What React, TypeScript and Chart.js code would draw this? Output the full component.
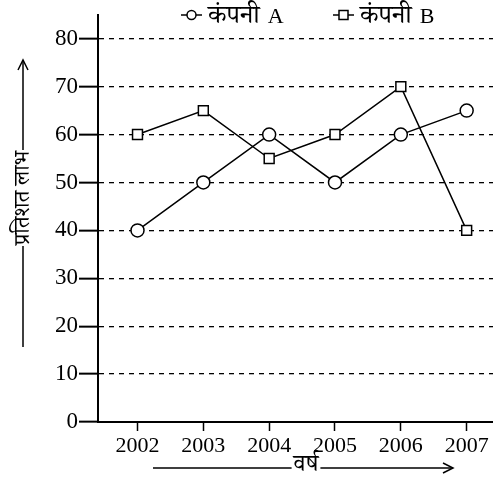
import React, { useEffect, useRef } from "react";
import { Chart, registerables } from "chart.js";

Chart.register(...registerables);

const years = [2002, 2003, 2004, 2005, 2006, 2007];
const companyA = [40, 50, 60, 50, 60, 65];
const companyB = [60, 65, 55, 60, 70, 40];
const yTicks = [0, 10, 20, 30, 40, 50, 60, 70, 80];
const seriesNames = ["कंपनी A", "कंपनी B"];
const yTitle = "प्रतिशत लाभ";
const xTitle = "वर्ष";

const SERIF = '"Liberation Serif", "Noto Serif Devanagari", "Noto Sans Devanagari", serif';

const decorPlugin = {
  id: "decor",
  afterDraw(chart: any) {
    const ctx = chart.ctx as CanvasRenderingContext2D;
    ctx.save();
    ctx.strokeStyle = "#000";
    ctx.fillStyle = "#000";
    ctx.lineWidth = 1.5;

    // Legend
    ctx.textBaseline = "middle";
    const ly = 15;
    const drawItem = (x0: number, style: string, label: string) => {
      ctx.lineWidth = 1.5;
      ctx.beginPath();
      ctx.moveTo(x0, ly);
      ctx.lineTo(x0 + 21, ly);
      ctx.stroke();
      const cx = x0 + 10.5;
      ctx.beginPath();
      if (style === "circle") {
        ctx.arc(cx, ly, 4.5, 0, Math.PI * 2);
      } else {
        ctx.rect(cx - 4.5, ly - 4.5, 9, 9);
      }
      ctx.fillStyle = "#fff";
      ctx.fill();
      ctx.stroke();
      ctx.fillStyle = "#000";
      ctx.textAlign = "left";
      const [w1, w2] = label.split(" ");
      ctx.font = `26px ${SERIF}`;
      ctx.fillText(w1, x0 + 27, ly + 1);
      const wd = ctx.measureText(w1).width;
      ctx.font = `22px ${SERIF}`;
      ctx.fillText(w2, x0 + 27 + wd + 8, ly + 2);
    };
    drawItem(181, "circle", seriesNames[0]);
    drawItem(333, "rect", seriesNames[1]);

    // Y axis title with arrow
    const tx = 23;
    const tcy = 198;
    ctx.font = `22px ${SERIF}`;
    const tw = ctx.measureText(yTitle).width;
    ctx.lineWidth = 1.5;
    ctx.beginPath();
    ctx.moveTo(tx, 347);
    ctx.lineTo(tx, tcy + tw / 2 + 1);
    ctx.moveTo(tx, tcy - tw / 2 - 1);
    ctx.lineTo(tx, 60);
    ctx.stroke();
    ctx.beginPath();
    ctx.moveTo(tx - 5, 70);
    ctx.lineTo(tx, 60);
    ctx.lineTo(tx + 5, 70);
    ctx.stroke();
    ctx.save();
    ctx.translate(tx, tcy);
    ctx.rotate(-Math.PI / 2);
    ctx.textAlign = "center";
    ctx.textBaseline = "middle";
    ctx.fillText(yTitle, 0, 0);
    ctx.restore();

    // X axis title with arrow
    const xcx = 306;
    const xy = 468;
    ctx.font = `24px ${SERIF}`;
    const xw = ctx.measureText(xTitle).width;
    ctx.beginPath();
    ctx.moveTo(153, xy);
    ctx.lineTo(xcx - xw / 2 - 2, xy);
    ctx.moveTo(xcx + xw / 2 + 2, xy);
    ctx.lineTo(453, xy);
    ctx.stroke();
    ctx.beginPath();
    ctx.moveTo(443, xy - 5);
    ctx.lineTo(453, xy);
    ctx.lineTo(443, xy + 5);
    ctx.stroke();
    ctx.textAlign = "center";
    ctx.textBaseline = "middle";
    ctx.fillText(xTitle, xcx, xy - 3);
    ctx.restore();
  },
};

export default function App() {
  const ref = useRef<HTMLCanvasElement | null>(null);

  useEffect(() => {
    document.body.style.margin = "0";
    const canvas = ref.current;
    if (!canvas) return;
    const chart = new Chart(canvas, {
      type: "line",
      data: {
        datasets: [
          {
            label: seriesNames[0],
            data: years.map((y, i) => ({ x: y, y: companyA[i] })),
            borderColor: "#000",
            borderWidth: 1.5,
            pointStyle: "circle",
            pointRadius: 6.5,
            pointBackgroundColor: "#fff",
            pointBorderColor: "#000",
            pointBorderWidth: 1.5,
            tension: 0,
          },
          {
            label: seriesNames[1],
            data: years.map((y, i) => ({ x: y, y: companyB[i] })),
            borderColor: "#000",
            borderWidth: 1.5,
            pointStyle: "rect",
            pointRadius: 7,
            pointBackgroundColor: "#fff",
            pointBorderColor: "#000",
            pointBorderWidth: 1.5,
            tension: 0,
          },
        ],
      },
      options: {
        responsive: false,
        animation: false,
        devicePixelRatio: 1,
        layout: { autoPadding: false, padding: { top: 10, right: 0, left: 0, bottom: 0 } },
        plugins: {
          legend: { display: false },
          tooltip: { enabled: false },
        },
        scales: {
          x: {
            type: "linear",
            min: years[0] - 0.6,
            max: years[years.length - 1] + 0.4,
            afterBuildTicks(scale: any) {
              scale.ticks = years.map((v) => ({ value: v }));
            },
            afterFit(scale: any) {
              scale.height = 55;
              scale.paddingLeft = 0;
              scale.paddingRight = 0;
            },
            grid: {
              drawOnChartArea: false,
              drawTicks: true,
              tickLength: 9,
              tickColor: "#000",
              tickWidth: 1.5,
              color: "#000",
            },
            border: { display: true, color: "#000", width: 2 },
            ticks: {
              color: "#000",
              font: { family: SERIF, size: 22 },
              padding: 2,
              maxRotation: 0,
              autoSkip: false,
              callback: (v: any) => String(v),
            },
          },
          y: {
            type: "linear",
            min: 0,
            max: 85,
            afterBuildTicks(scale: any) {
              scale.ticks = yTicks.map((v) => ({ value: v }));
            },
            afterFit(scale: any) {
              scale.width = 98;
            },
            grid: {
              color: (c: any) => (c.tick && c.tick.value === 0 ? "rgba(0,0,0,0)" : "#000"),
              lineWidth: 1.3,
              drawTicks: true,
              tickLength: 19,
              tickColor: "#000",
              tickWidth: 2,
            },
            border: { display: true, color: "#000", width: 2, dash: [5, 5] },
            ticks: {
              color: "#000",
              font: { family: SERIF, size: 23 },
              padding: 1,
              callback: (v: any) => String(v),
            },
          },
        },
      },
      plugins: [decorPlugin],
    });
    return () => chart.destroy();
  }, []);

  return (
    <div style={{ position: "relative", width: 493, height: 477 }}>
      <canvas ref={ref} width={493} height={477} style={{ display: "block", width: 493, height: 477 }} />
    </div>
  );
}
